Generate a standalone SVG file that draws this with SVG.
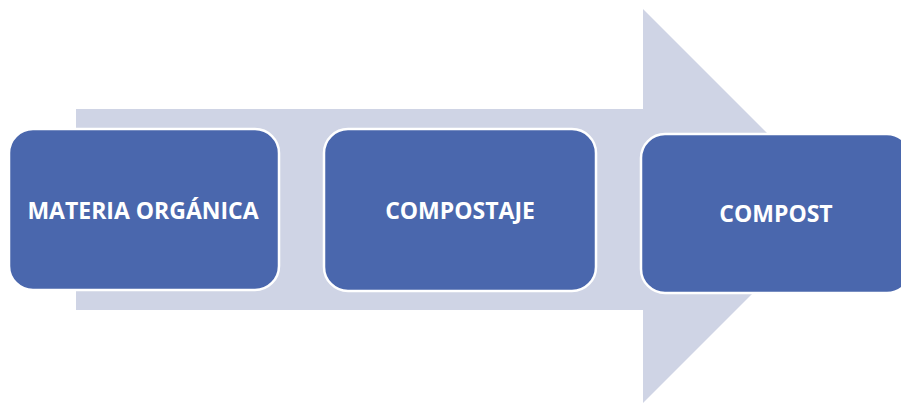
<svg xmlns="http://www.w3.org/2000/svg" width="901" height="405" viewBox="0 0 901 405">
<style>
.box{fill:#4A67AD;stroke:#FFFFFF;stroke-width:2.5}
.lbl{font-family:"Open Sans","Liberation Sans",sans-serif;font-weight:bold;font-size:23px;fill:#FFFFFF;text-anchor:middle;dominant-baseline:central}
</style>
<rect width="901" height="405" fill="#FFFFFF"/>
<g id="arrow">
<polygon points="76,109 643,109 643,9 840,206 643,403 643,310 76,310" fill="#CFD4E5"/>
</g>
<g id="node1">
<rect class="box" x="9" y="129" width="270" height="161" rx="24"/>
<text class="lbl" x="143" y="210">MATERIA ORGÁNICA</text>
</g>
<g id="node2">
<rect class="box" x="324" y="129" width="272" height="162" rx="24"/>
<text class="lbl" x="460" y="210">COMPOSTAJE</text>
</g>
<g id="node3">
<rect class="box" x="641" y="134" width="270" height="159" rx="24"/>
<text class="lbl" x="776" y="213">COMPOST</text>
</g>
<g id="connectors"></g>
</svg>
